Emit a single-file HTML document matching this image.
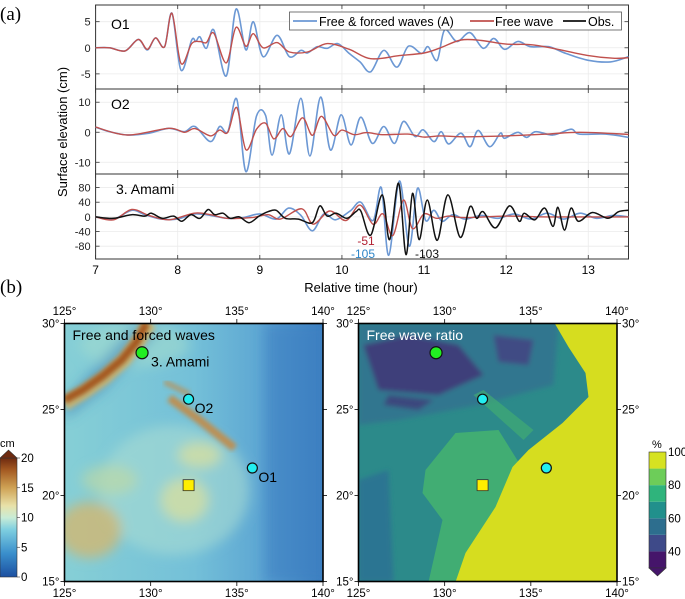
<!DOCTYPE html>
<html><head><meta charset="utf-8">
<style>
html,body{margin:0;padding:0;background:#fff;}
svg{display:block;font-family:"Liberation Sans",sans-serif;}
</style></head>
<body>
<svg id="fig" width="685" height="599" viewBox="0 0 685 599" xmlns="http://www.w3.org/2000/svg">
<defs>
  <linearGradient id="seaL" x1="0" y1="0" x2="1" y2="0">
    <stop offset="0" stop-color="#86cfd6"/><stop offset="0.5" stop-color="#74c0d8"/><stop offset="0.8" stop-color="#5aa3d2"/><stop offset="1" stop-color="#3b7fc0"/>
  </linearGradient>
  <filter id="blur6"><feGaussianBlur stdDeviation="6"/></filter>
  <filter id="blur3"><feGaussianBlur stdDeviation="2.5"/></filter>
  <linearGradient id="cbL" x1="0" y1="1" x2="0" y2="0">
    <stop offset="0" stop-color="#1c4fa0"/><stop offset="0.2" stop-color="#3a8fcc"/><stop offset="0.4" stop-color="#7fcfe0"/>
    <stop offset="0.5" stop-color="#c9ecd6"/><stop offset="0.6" stop-color="#e8e1a8"/><stop offset="0.75" stop-color="#cfa255"/>
    <stop offset="0.9" stop-color="#a45a22"/><stop offset="1" stop-color="#6e2a10"/>
  </linearGradient>
  <clipPath id="clipL"><rect x="64.5" y="323.5" width="258.5" height="258"/></clipPath>
  <clipPath id="clipR"><rect x="358.5" y="323.5" width="258.5" height="258"/></clipPath>
</defs>

<text x="0" y="20" font-family="Liberation Serif" font-size="19">(a)</text>
<text x="0" y="293" font-family="Liberation Serif" font-size="19">(b)</text>
<g id="ts"></g>
<g id="maps"></g>
</svg>
<script>
// ---------------- Time-series data ----------------
const o1BlueT = [7.00,7.17,7.36,7.52,7.63,7.73,7.84,7.93,8.04,8.17,8.22,8.27,8.35,8.44,8.59,8.71,8.83,8.92,9.04,9.21,9.36,9.50,9.58,9.70,9.82,9.95,10.09,10.22,10.35,10.51,10.67,10.81,10.97,11.05,11.16,11.25,11.40,11.56,11.72,11.85,11.98,12.14,12.30,12.52,12.73,13.00,13.27,13.49];
const o1BlueV = [0,0,-0.6,1.6,-0.4,1.9,0.2,6.6,-4.3,1.5,1.2,2.1,-0.1,3.4,-5.4,7.4,-0.4,5,-1.7,2.4,-1.7,-0.5,-1,0.2,-0.1,0.8,-1.1,-2.7,-4.6,-0.5,-3.7,0.3,-1.1,0.2,-2.4,3.4,1.2,2.9,-0.1,1.8,-0.3,1.2,0.2,0.2,-1.1,-2.4,-2.7,-1.7];
const o1RedT = [7.00,7.17,7.36,7.52,7.63,7.73,7.84,7.93,8.04,8.17,8.27,8.35,8.44,8.59,8.71,8.83,8.92,9.04,9.21,9.36,9.58,9.82,10.09,10.35,10.70,11.00,11.20,11.45,11.70,12.00,12.30,12.60,13.00,13.30,13.49];
const o1RedV = [0,0,-0.6,1.6,-0.3,1.9,0.2,6.6,-3,0.8,1.2,1,2.8,-2.9,3.9,0.3,2.7,0,1,-0.8,-0.8,0.8,-0.3,-2.1,-1.5,-1,0,1.5,1.4,0.7,0.6,-0.2,-1.5,-2,-1.9];

const o2BlueT = [7.00,7.17,7.39,7.65,7.89,8.08,8.21,8.40,8.51,8.61,8.72,8.83,8.96,9.07,9.15,9.26,9.36,9.50,9.61,9.74,9.86,9.99,10.11,10.23,10.37,10.51,10.64,10.75,10.89,10.99,11.12,11.21,11.30,11.45,11.56,11.66,11.80,11.93,11.98,12.14,12.25,12.36,12.57,12.79,12.89,13.21,13.49];
const o2BlueV = [1.7,0.2,-0.9,-0.3,1.3,0.2,1.9,-3.1,1.9,0.2,11,-13.1,5.4,5.6,-7.6,5.8,-7.2,11.3,-7.9,11.7,-5.9,5.8,-4.2,5,-3.7,1.9,-3.7,3.6,-1.4,0.8,-3.1,0.2,-3.9,-0.3,-4.8,0.6,-4.8,-0.3,-2,0,-1.7,0.2,-0.9,1,-0.6,-0.6,-1.7];
const o2RedT = [7.00,7.39,7.89,8.08,8.21,8.40,8.51,8.61,8.72,8.83,8.96,9.07,9.17,9.28,9.38,9.52,9.64,9.75,9.90,10.00,10.15,10.30,10.50,10.80,11.00,11.20,11.50,12.00,12.50,12.90,13.49];
const o2RedV = [1.7,-0.9,1.3,0,1.2,-1.2,0.7,0,8.2,-5.8,1,3,-2.2,1.2,-1.4,4.8,-1,5.3,-1,0.7,-0.8,-0.1,-0.8,-0.6,-1.6,-1.2,-1.5,-1.2,-0.6,0,-0.7];

const amObsT = [7.00,7.22,7.44,7.60,7.68,7.81,7.95,8.05,8.16,8.27,8.37,8.45,8.55,8.64,8.75,8.87,8.99,9.10,9.20,9.31,9.47,9.64,9.73,9.82,9.93,10.06,10.17,10.23,10.35,10.49,10.58,10.69,10.78,10.86,10.94,11.04,11.16,11.29,11.44,11.56,11.64,11.72,11.87,12.04,12.16,12.22,12.35,12.47,12.57,12.63,12.71,12.79,12.88,13.05,13.24,13.37,13.49];
const amObsV = [0,-4,6,2,10,-4,2,-12,6,-4,20,6,10,-4,0,-16,2,14,18,-4,-6,-16,30,2,10,-4,14,16,-50,60,-62,92,-103,64,-62,46,-64,60,-56,28,-4,14,-30,30,-12,10,-8,24,-26,26,-36,24,-12,12,-4,14,18];
const amBlueT = [7.00,7.22,7.44,7.60,7.80,8.00,8.20,8.40,8.60,8.80,9.00,9.20,9.35,9.50,9.64,9.78,9.92,10.10,10.23,10.38,10.48,10.57,10.70,10.82,10.92,11.02,11.12,11.22,11.35,11.50,11.70,11.90,12.10,12.30,12.50,12.70,12.90,13.10,13.30,13.49];
const amBlueV = [0,-6,18,6,-6,-6,8,4,-4,-2,8,-6,24,4,-38,8,-8,16,40,-10,80,-105,98,-80,78,-10,18,-12,6,-6,4,-4,8,-6,10,-6,10,-4,4,0];
const amRedT = [7.00,7.22,7.44,7.65,7.90,8.20,8.40,8.60,8.90,9.10,9.25,9.51,9.65,9.85,10.05,10.22,10.38,10.50,10.62,10.75,10.86,11.00,11.15,11.30,11.50,12.00,12.50,13.49];
const amRedV = [0,-8,20,4,-8,10,6,-4,-2,6,-6,22,-20,16,-10,32,-20,8,-51,46,-32,8,-4,2,-2,2,0,0];

const xTicks = [7,8,9,10,11,12,13];
const o1Ticks = [5,0,-5];
const o2Ticks = [10,0,-10];
const amTicks = [80,40,0,-40,-80];

const NS = "http://www.w3.org/2000/svg";
function mk(tag, attrs, parent){ const e=document.createElementNS(NS,tag); for(const k in attrs) e.setAttribute(k,attrs[k]); if(parent) parent.appendChild(e); return e; }

const PX0=95.6, PX1=628.5, T0=7, T1=13.49;
function xS(t){ return PX0 + (t-T0)/(T1-T0)*(PX1-PX0); }
const panels = [
  {top:5, bot:89, vmin:-7.9, vmax:8.2, ticks:o1Ticks, name:"o1"},
  {top:89, bot:174, vmin:-13.9, vmax:14.4, ticks:o2Ticks, name:"o2"},
  {top:174, bot:259, vmin:-115, vmax:117, ticks:amTicks, name:"amami"}
];
function yS(p,v){ return p.bot - (v-p.vmin)/(p.vmax-p.vmin)*(p.bot-p.top); }

function smoothPath(ts, vs, p){
  const pts = ts.map((t,i)=>[xS(t), yS(p,vs[i])]);
  let d = "M"+pts[0][0].toFixed(1)+","+pts[0][1].toFixed(1);
  for(let i=0;i<pts.length-1;i++){
    const p0=pts[Math.max(0,i-1)], p1=pts[i], p2=pts[i+1], p3=pts[Math.min(pts.length-1,i+2)];
    const c1=[p1[0]+(p2[0]-p0[0])/6, p1[1]+(p2[1]-p0[1])/6];
    const c2=[p2[0]-(p3[0]-p1[0])/6, p2[1]-(p3[1]-p1[1])/6];
    d += " C"+c1[0].toFixed(1)+","+c1[1].toFixed(1)+" "+c2[0].toFixed(1)+","+c2[1].toFixed(1)+" "+p2[0].toFixed(1)+","+p2[1].toFixed(1);
  }
  return d;
}

const ts = document.getElementById("ts");
panels.forEach((p,pi)=>{
  const g = mk("g",{},ts);
  
  
  xTicks.forEach(t=>{ mk("line",{x1:xS(t),x2:xS(t),y1:p.top,y2:p.bot,stroke:"#ebebeb","stroke-width":0.8},g); });
  p.ticks.forEach(v=>{
    mk("line",{x1:PX0,x2:PX1,y1:yS(p,v),y2:yS(p,v),stroke:"#ebebeb","stroke-width":0.8},g);
    mk("line",{x1:PX0,x2:PX0+4,y1:yS(p,v),y2:yS(p,v),stroke:"#333","stroke-width":0.8},g);
    mk("line",{x1:PX1-4,x2:PX1,y1:yS(p,v),y2:yS(p,v),stroke:"#333","stroke-width":0.8},g);
    const tx = mk("text",{x:PX0-5,y:yS(p,v)+4,"text-anchor":"end","font-size":11,fill:"#222"},g);
    tx.textContent = v;
    
    
  });
  xTicks.forEach(t=>{
    mk("line",{x1:xS(t),x2:xS(t),y1:p.bot,y2:p.bot-4,stroke:"#333","stroke-width":0.8},g);
    mk("line",{x1:xS(t),x2:xS(t),y1:p.top,y2:p.top+4,stroke:"#333","stroke-width":0.8},g);
  });
  mk("rect",{x:PX0,y:p.top,width:PX1-PX0,height:p.bot-p.top,fill:"none",stroke:"#333","stroke-width":1},g);
});

const series = [
  [0,o1BlueT,o1BlueV,"#6c98d4",1.6,"o1-free-forced-line"],
  [0,o1RedT,o1RedV,"#c0504d",1.4,"o1-free-wave-line"],
  [1,o2BlueT,o2BlueV,"#6c98d4",1.6,"o2-free-forced-line"],
  [1,o2RedT,o2RedV,"#c0504d",1.4,"o2-free-wave-line"],
  [2,amBlueT,amBlueV,"#6c98d4",1.6,"amami-free-forced-line"],
  [2,amRedT,amRedV,"#c0504d",1.4,"amami-free-wave-line"],
  [2,amObsT,amObsV,"#111",1.5,"amami-obs-line"]
];
series.forEach(s=>{
  const path = mk("path",{d:smoothPath(s[1],s[2],panels[s[0]]),fill:"none",stroke:s[3],"stroke-width":s[4],"stroke-linejoin":"round"},ts);
  
  
});

function txt(parent,x,y,str,attrs,name){
  const t = mk("text",Object.assign({x:x,y:y},attrs),parent);
  t.textContent = str;
  
  
  return t;
}
txt(ts,111,29,"O1",{"font-size":14},"o1-label");
txt(ts,111,109,"O2",{"font-size":14},"o2-label");
txt(ts,116,194,"3. Amami",{"font-size":14},"amami-label");
txt(ts,366,245,"-51",{"font-size":12,fill:"#b22234","text-anchor":"middle"},"annot-free-min");
txt(ts,363,258,"-105",{"font-size":12,fill:"#2f86c8","text-anchor":"middle"},"annot-forced-min");
txt(ts,415,258,"-103",{"font-size":12,fill:"#111"},"annot-obs-min");
xTicks.forEach(t=>{ txt(ts,xS(t),274,String(t),{"font-size":12,"text-anchor":"middle"},"x-tick-label"); });
txt(ts,361,292,"Relative time (hour)",{"font-size":13,"text-anchor":"middle"},"x-axis-title");
txt(ts,0,0,"Surface elevation (cm)",{"font-size":13,"text-anchor":"middle",transform:"translate(67,132) rotate(-90)"},"y-axis-title");

const lg = mk("g",{},ts);


mk("rect",{x:289.5,y:12,width:332,height:18,fill:"#fff",stroke:"#555","stroke-width":0.8},lg);
mk("line",{x1:293,x2:317,y1:21,y2:21,stroke:"#6c98d4","stroke-width":1.8},lg);
txt(lg,319,26,"Free & forced waves (A)",{"font-size":12.5},"legend-free-forced");
mk("line",{x1:470,x2:494,y1:21,y2:21,stroke:"#c0504d","stroke-width":1.8},lg);
txt(lg,495,26,"Free wave",{"font-size":12.5},"legend-free-wave");
mk("line",{x1:563,x2:586,y1:21,y2:21,stroke:"#111","stroke-width":1.8},lg);
txt(lg,588,26,"Obs.",{"font-size":12.5},"legend-obs");

// ---------------- Maps ----------------
const lonTicks=[125,130,135,140];
const latTicks=[30,25,20,15];
const stations = [ {name:"amami",lon:129.5,lat:28.3,fill:"#22ee22"}, {name:"o2",lon:132.2,lat:25.6,fill:"#22eef0"}, {name:"o1",lon:135.9,lat:21.6,fill:"#22eef0"} ];
const sourceLon=132.2, sourceLat=20.6;
const maps = document.getElementById("maps");
const MW=258.5, MH=258;
function mx(ox,lon){ return ox + (lon-125)/15*MW; }
function my(lat){ return 323.5 + (30-lat)/15*MH; }

function drawMap(ox, kind){
  const g = mk("g",{},maps);
  
  
  const c = mk("g",{"clip-path":"url(#clip"+kind+")"},g);
  if(kind==="L"){
    mk("rect",{x:ox,y:323.5,width:MW,height:MH,fill:"url(#seaL)"},c);
    const bl = mk("g",{filter:"url(#blur6)"},c);
    mk("ellipse",{cx:ox+110,cy:490,rx:75,ry:65,fill:"#a8dcd2",opacity:0.6},bl);
    mk("ellipse",{cx:ox+25,cy:530,rx:32,ry:28,fill:"#d2b872",opacity:0.8},bl);
    mk("ellipse",{cx:ox+45,cy:480,rx:28,ry:15,fill:"#c2d8a0",opacity:0.6},bl);
    mk("ellipse",{cx:ox+120,cy:500,rx:24,ry:22,fill:"#d4dfa2",opacity:0.8},bl);
    mk("ellipse",{cx:ox+135,cy:455,rx:22,ry:13,fill:"#d4dfa2",opacity:0.8},bl);
    mk("ellipse",{cx:ox+70,cy:345,rx:55,ry:22,fill:"#a2dccf",opacity:0.6},bl);
    mk("rect",{x:ox+200,y:323,width:60,height:260,fill:"#3c7fc2",opacity:0.6},bl);
    mk("path",{d:`M${ox+70},325 L${ox+95},330 L${ox+40},390 L${ox},420 L${ox},400 Z`,fill:"#3b7fb8",opacity:0.5},bl);
    const r1 = mk("path",{d:`M${ox+85},323 L${ox+75},340 L${ox+60},360 L${ox+40},378 L${ox+20},392 L${ox},404`,stroke:"#d8b866","stroke-width":14,fill:"none",opacity:0.8},c); r1.setAttribute("filter","url(#blur3)");
    const r2 = mk("path",{d:`M${ox+82},323 L${ox+72},342 L${ox+57},360 L${ox+38},376 L${ox+18},390 L${ox},400`,stroke:"#a4561f","stroke-width":8,fill:"none"},c); r2.setAttribute("filter","url(#blur3)");
    const r3 = mk("path",{d:`M${ox+105},398 L${ox+135},420 L${ox+170},448`,stroke:"#c48a45","stroke-width":8,fill:"none",opacity:0.9},c); r3.setAttribute("filter","url(#blur3)");
    const r4 = mk("path",{d:`M${ox+100},382 L${ox+125},394`,stroke:"#c48a45","stroke-width":5,fill:"none",opacity:0.7},c); r4.setAttribute("filter","url(#blur3)");
  } else {
    mk("rect",{x:ox,y:323.5,width:MW,height:MH,fill:"#2c8a8a"},c);
    const bl = mk("g",{filter:"url(#blur3)"},c);
    mk("path",{d:`M${ox},480 L${ox+30},470 L${ox+35},582 L${ox},582 Z`,fill:"#2d6f93",opacity:0.8},bl);
    mk("path",{d:`M${ox},323 L${ox+200},323 L${ox+195},385 L${ox+120},405 L${ox+40},420 L${ox},425 Z`,fill:"#34738f",opacity:0.85},bl);
    mk("path",{d:`M${ox+5},345 L${ox+50},335 L${ox+100},345 L${ox+125},375 L${ox+80},395 L${ox+20},390 Z`,fill:"#432a72",opacity:0.7},bl);
    mk("path",{d:`M${ox+30},395 L${ox+75},400 L${ox+60},410 L${ox+25},405 Z`,fill:"#432a72",opacity:0.6},bl);
    mk("path",{d:`M${ox+135},335 L${ox+175},340 L${ox+170},365 L${ox+140},362 Z`,fill:"#463a80",opacity:0.7},bl);
    mk("path",{d:`M${ox+140},430 L${ox+97},433 L${ox+67},470 L${ox+64},493 L${ox+84},520 L${ox+70},582 L${ox+140},582 L${ox+165},470 Z`,fill:"#44b070",opacity:0.9},c);
    mk("path",{d:`M${ox+115},395 L${ox+165},440 L${ox+175},430 L${ox+125},390 Z`,fill:"#44b070",opacity:0.6},c);
    mk("path",{d:`M${ox+196},323 L${ox+210},347 L${ox+227},373 L${ox+230},397 L${ox+204},423 L${ox+170},450 L${ox+154},467 L${ox+137},507 L${ox+107},553 L${ox+97},582 L${ox+259},582 L${ox+259},323 Z`,fill:"#d6dd1f"},c);
  }
  lonTicks.forEach(lon=>{
    const x=mx(ox,lon);
    mk("line",{x1:x,x2:x,y1:323.5,y2:319,stroke:"#000","stroke-width":0.8},g);
    mk("line",{x1:x,x2:x,y1:581.5,y2:586,stroke:"#000","stroke-width":0.8},g);
    txt(g,x,315,lon+"°",{"font-size":11.5,"text-anchor":"middle"},"lon-tick-label-top");
    txt(g,x,597,lon+"°",{"font-size":11.5,"text-anchor":"middle"},"lon-tick-label-bottom");
  });
  latTicks.forEach(lat=>{
    const y=my(lat);
    mk("line",{x1:ox,x2:ox-4,y1:y,y2:y,stroke:"#000","stroke-width":0.8},g);
    mk("line",{x1:ox+MW,x2:ox+MW+4,y1:y,y2:y,stroke:"#000","stroke-width":0.8},g);
    txt(g,ox-5,y+4,lat+"°",{"font-size":11.5,"text-anchor":"end"},"lat-tick-label-left");
    if(kind==="R") txt(g,ox+MW+5,y+4,lat+"°",{"font-size":11.5},"lat-tick-label-right");
  });
  mk("rect",{x:ox,y:323.5,width:MW,height:MH,fill:"none",stroke:"#000","stroke-width":1.6},g);
  const sq = mk("rect",{x:mx(ox,sourceLon)-5.5,y:my(sourceLat)-5.5,width:11,height:11,fill:"#ffee00",stroke:"#333","stroke-width":0.8},g);
  
  
  stations.forEach(s=>{
    const r = s.name==="amami"?6:5;
    const ci = mk("circle",{cx:mx(ox,s.lon),cy:my(s.lat),r:r,fill:s.fill,stroke:"#111","stroke-width":1.2},g);
    
    
  });
  if(kind==="L"){
    txt(g,ox+8,340,"Free and forced waves",{"font-size":14},"left-map-title");
    txt(g,mx(ox,129.5)+9,my(28.3)+14,"3. Amami",{"font-size":14},"amami-map-label");
    txt(g,mx(ox,132.2)+6,my(25.6)+14,"O2",{"font-size":14},"o2-map-label");
    txt(g,mx(ox,135.9)+6,my(21.6)+14,"O1",{"font-size":14},"o1-map-label");
  } else {
    txt(g,ox+8,340,"Free wave ratio",{"font-size":14,fill:"#fff"},"right-map-title");
  }
}
drawMap(64.5,"L");
drawMap(358.5,"R");

const cbTicksL=[0,5,10,15,20];
const cbl = mk("g",{},maps);


mk("rect",{x:0,y:458,width:17,height:119,fill:"url(#cbL)",stroke:"#333","stroke-width":0.6},cbl);
mk("path",{d:"M0,458 L8.5,450 L17,458 Z",fill:"#6e2a10",stroke:"#333","stroke-width":0.6},cbl);
txt(cbl,0,447,"cm",{"font-size":11},"colorbar-cm-unit");
cbTicksL.forEach(v=>{ const y=577-v/20*119; mk("line",{x1:17,x2:20,y1:y,y2:y,stroke:"#333","stroke-width":0.6},cbl); txt(cbl,21,y+4,String(v),{"font-size":11.5},"colorbar-cm-tick"); });

const cbBinsR=[30,40,50,60,70,80,90,100];
const cbColorsR=["#45156a","#3e4a89","#2d6e8e","#21908c","#2fb47c","#6dcd59","#d6e222"];
const cbLabelsR=[40,60,80,100];
const cbr = mk("g",{},maps);


function cy(v){ return 568 - (v-30)/70*116; }
cbColorsR.forEach((col,i)=>{ mk("rect",{x:649,y:cy(cbBinsR[i+1]),width:17,height:cy(cbBinsR[i])-cy(cbBinsR[i+1]),fill:col},cbr); });
mk("rect",{x:649,y:cy(100),width:17,height:cy(30)-cy(100),fill:"none",stroke:"#333","stroke-width":0.6},cbr);
mk("path",{d:`M649,${cy(30)} L657.5,576 L666,${cy(30)} Z`,fill:"#45156a",stroke:"#333","stroke-width":0.6},cbr);
txt(cbr,652,448,"%",{"font-size":11},"colorbar-percent-unit");
cbLabelsR.forEach(v=>{ txt(cbr,668,cy(v)+4,String(v),{"font-size":11.5},"colorbar-percent-tick"); });
</script>
</body></html>
